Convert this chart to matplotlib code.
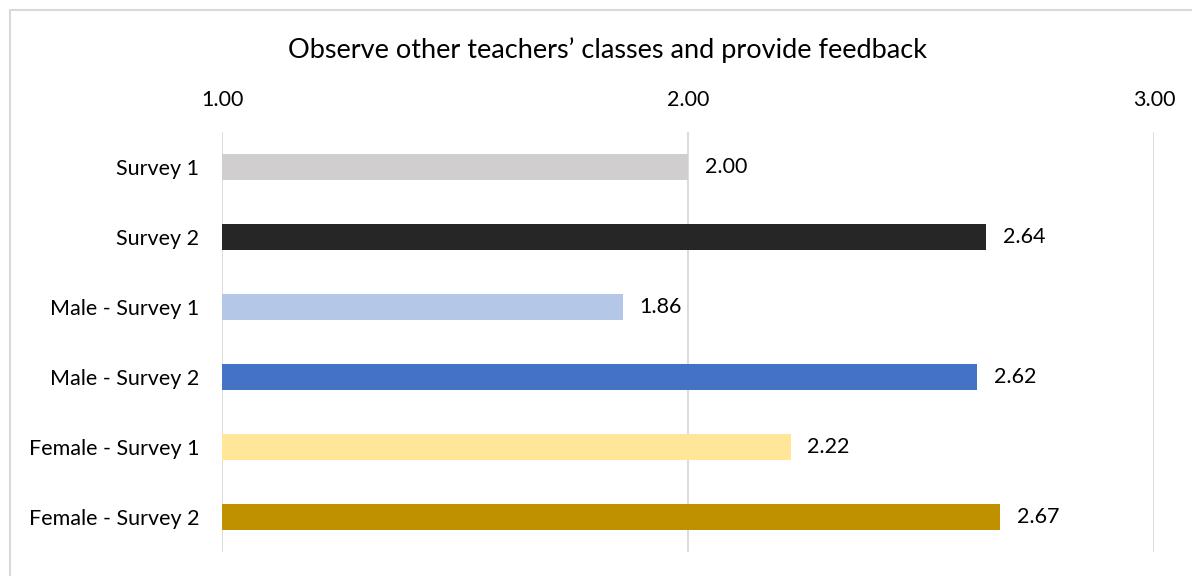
import matplotlib.pyplot as plt
from matplotlib.patches import Rectangle

categories = ['Survey 1', 'Survey 2', 'Male - Survey 1', 'Male - Survey 2',
              'Female - Survey 1', 'Female - Survey 2']
values = [2.00, 2.64, 1.86, 2.62, 2.22, 2.67]
colors = ['#D0CECE', '#262626', '#B4C7E7', '#4472C4', '#FFE699', '#BF9000']
ticks = [1.0, 2.0, 3.0]

plt.rcParams['font.family'] = ['Lato', 'DejaVu Sans']

fig = plt.figure(figsize=(11.92, 5.76), dpi=100)
ax = fig.add_axes([222 / 1192, 1 - 552 / 576, (1154 - 222) / 1192, 420 / 576])

y = list(range(len(categories)))
ax.barh(y, [v - 1 for v in values], left=1, height=0.36, color=colors, zorder=3)
for yi, v in zip(y, values):
    ax.text(v + 0.036, yi, f'{v:.2f}', va='center', ha='left', fontsize=15.5)

ax.set_xlim(1, 3)
ax.set_ylim(len(categories) - 0.5, -0.5)
ax.set_yticks(y)
ax.set_yticklabels(categories, fontsize=15.5)
ax.set_xticks(ticks)
ax.set_xticklabels([f'{t:.2f}' for t in ticks], fontsize=15.5)
ax.xaxis.tick_top()
ax.tick_params(axis='both', length=0)
ax.tick_params(axis='x', pad=16)
ax.tick_params(axis='y', pad=16.5)
ax.grid(axis='x', color='#D9D9D9', linewidth=1.3, zorder=0)
for s in ax.spines.values():
    s.set_visible(False)

fig.text(608 / 1192, 1 - 50 / 576, 'Observe other teachers\u2019 classes and provide feedback',
         ha='center', va='center', fontsize=19.5)

fig.patches.append(Rectangle((10 / 1192, -0.1), 1.2, 1 - 10 / 576 + 0.1,
                             transform=fig.transFigure, fill=False,
                             edgecolor='#D9D9D9', linewidth=1.5))

fig.savefig('out.png', dpi=100)
